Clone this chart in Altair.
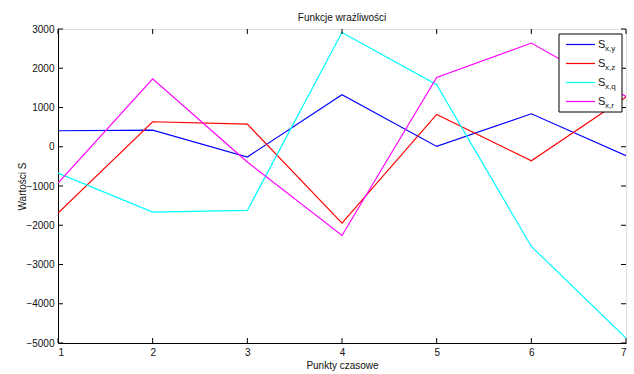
import altair as alt
import pandas as pd

# Time points and sensitivity function values
t = [1, 2, 3, 4, 5, 6, 7]
s_xy = [408, 425, -262, 1325, 8, 840, -230]
s_xz = [-1690, 637, 578, -1945, 823, -357, 1265]
s_xq = [-670, -1665, -1622, 2912, 1580, -2540, -4874]
s_xr = [-925, 1732, -390, -2260, 1766, 2642, 1280]

series_keys = ["x,y", "x,z", "x,q", "x,r"]
series_colors = ["#0000ff", "#ff0000", "#00ffff", "#ff00ff"]
x_ticks = [1, 2, 3, 4, 5, 6, 7]
y_ticks = [-5000, -4000, -3000, -2000, -1000, 0, 1000, 2000, 3000]

W, H = 568, 314
FONT = "Liberation Sans"

rows = []
for key, vals in zip(series_keys, [s_xy, s_xz, s_xq, s_xr]):
    for ti, v in zip(t, vals):
        rows.append({"t": ti, "S": v, "series": key})
df = pd.DataFrame(rows)

x_scale = alt.Scale(domain=[1, 7], nice=False, zero=False)
y_scale = alt.Scale(domain=[-5000, 3000], nice=False, zero=False)
color_scale = alt.Scale(domain=series_keys, range=series_colors)

x_axis = alt.Axis(values=x_ticks, title="Punkty czasowe", format="d",
                  ticks=False, grid=False, labelPadding=4,
                  domainColor="black", labelColor="#111",
                  labelFontSize=10, labelFont=FONT,
                  titleFont=FONT, titleFontSize=10, titleFontWeight="normal",
                  titlePadding=3, titleColor="#111")
y_axis = alt.Axis(values=y_ticks, title="Wartości S", format="d",
                  ticks=False, grid=False, labelPadding=4,
                  domainColor="black", labelColor="#111",
                  labelFontSize=10, labelFont=FONT,
                  titleFont=FONT, titleFontSize=10, titleFontWeight="normal",
                  titlePadding=-2, titleColor="#111")

lines = alt.Chart(df).mark_line(strokeWidth=1.2, clip=True).encode(
    x=alt.X("t:Q", scale=x_scale, axis=x_axis, title="Punkty czasowe"),
    y=alt.Y("S:Q", scale=y_scale, axis=y_axis, title="Wartości S"),
    color=alt.Color("series:N", scale=color_scale, legend=None),
    detail="series:N",
)

# Inward tick marks on all four sides of the box
xt = pd.DataFrame({"t": x_ticks})
yt = pd.DataFrame({"S": y_ticks})
tick_len = 5
xx = alt.X("t:Q", scale=x_scale, axis=x_axis, title="Punkty czasowe")
yy = alt.Y("S:Q", scale=y_scale, axis=y_axis, title="Wartości S")
xtick_bottom = alt.Chart(xt).mark_rule(color="black", strokeWidth=1).encode(
    x=xx, y=alt.value(H), y2=alt.value(H - tick_len))
xtick_top = alt.Chart(xt).mark_rule(color="black", strokeWidth=1).encode(
    x=xx, y=alt.value(0), y2=alt.value(tick_len))
ytick_left = alt.Chart(yt).mark_rule(color="black", strokeWidth=1).encode(
    y=yy, x=alt.value(0), x2=alt.value(tick_len))
ytick_right = alt.Chart(yt).mark_rule(color="black", strokeWidth=1).encode(
    y=yy, x=alt.value(W), x2=alt.value(W - tick_len))

# Legend box in the upper right corner
one = pd.DataFrame({"a": [0]})
legend_layers = [
    alt.Chart(one).mark_rect(fill="white", stroke="black", strokeWidth=1).encode(
        x=alt.value(501), x2=alt.value(564), y=alt.value(5), y2=alt.value(83))
]
for i, (key, col) in enumerate(zip(series_keys, series_colors)):
    ly = 15.5 + i * 19
    legend_layers.append(alt.Chart(one).mark_rule(strokeWidth=1.2, color=col).encode(
        x=alt.value(508), x2=alt.value(537), y=alt.value(ly)))
    legend_layers.append(alt.Chart(one).mark_text(
        align="left", baseline="middle", font=FONT, fontSize=11, color="#111",
        text="S").encode(x=alt.value(540), y=alt.value(ly)))
    legend_layers.append(alt.Chart(one).mark_text(
        align="left", baseline="middle", font=FONT, fontSize=8, color="#111",
        text=key).encode(x=alt.value(547), y=alt.value(ly + 4)))

chart = alt.layer(
    lines, xtick_bottom, xtick_top, ytick_left, ytick_right, *legend_layers
).properties(
    width=W, height=H,
    title=alt.TitleParams("Funkcje wrażliwości", font=FONT, fontSize=10,
                          fontWeight="normal", color="#111", offset=1),
    autosize=alt.AutoSizeParams(type="none"),
    padding={"left": 58, "top": 29, "right": 8, "bottom": 31},
).configure_view(stroke="black", strokeWidth=1).configure(background="white")

chart.save("out.html", embed_options={"renderer": "svg", "actions": False})
